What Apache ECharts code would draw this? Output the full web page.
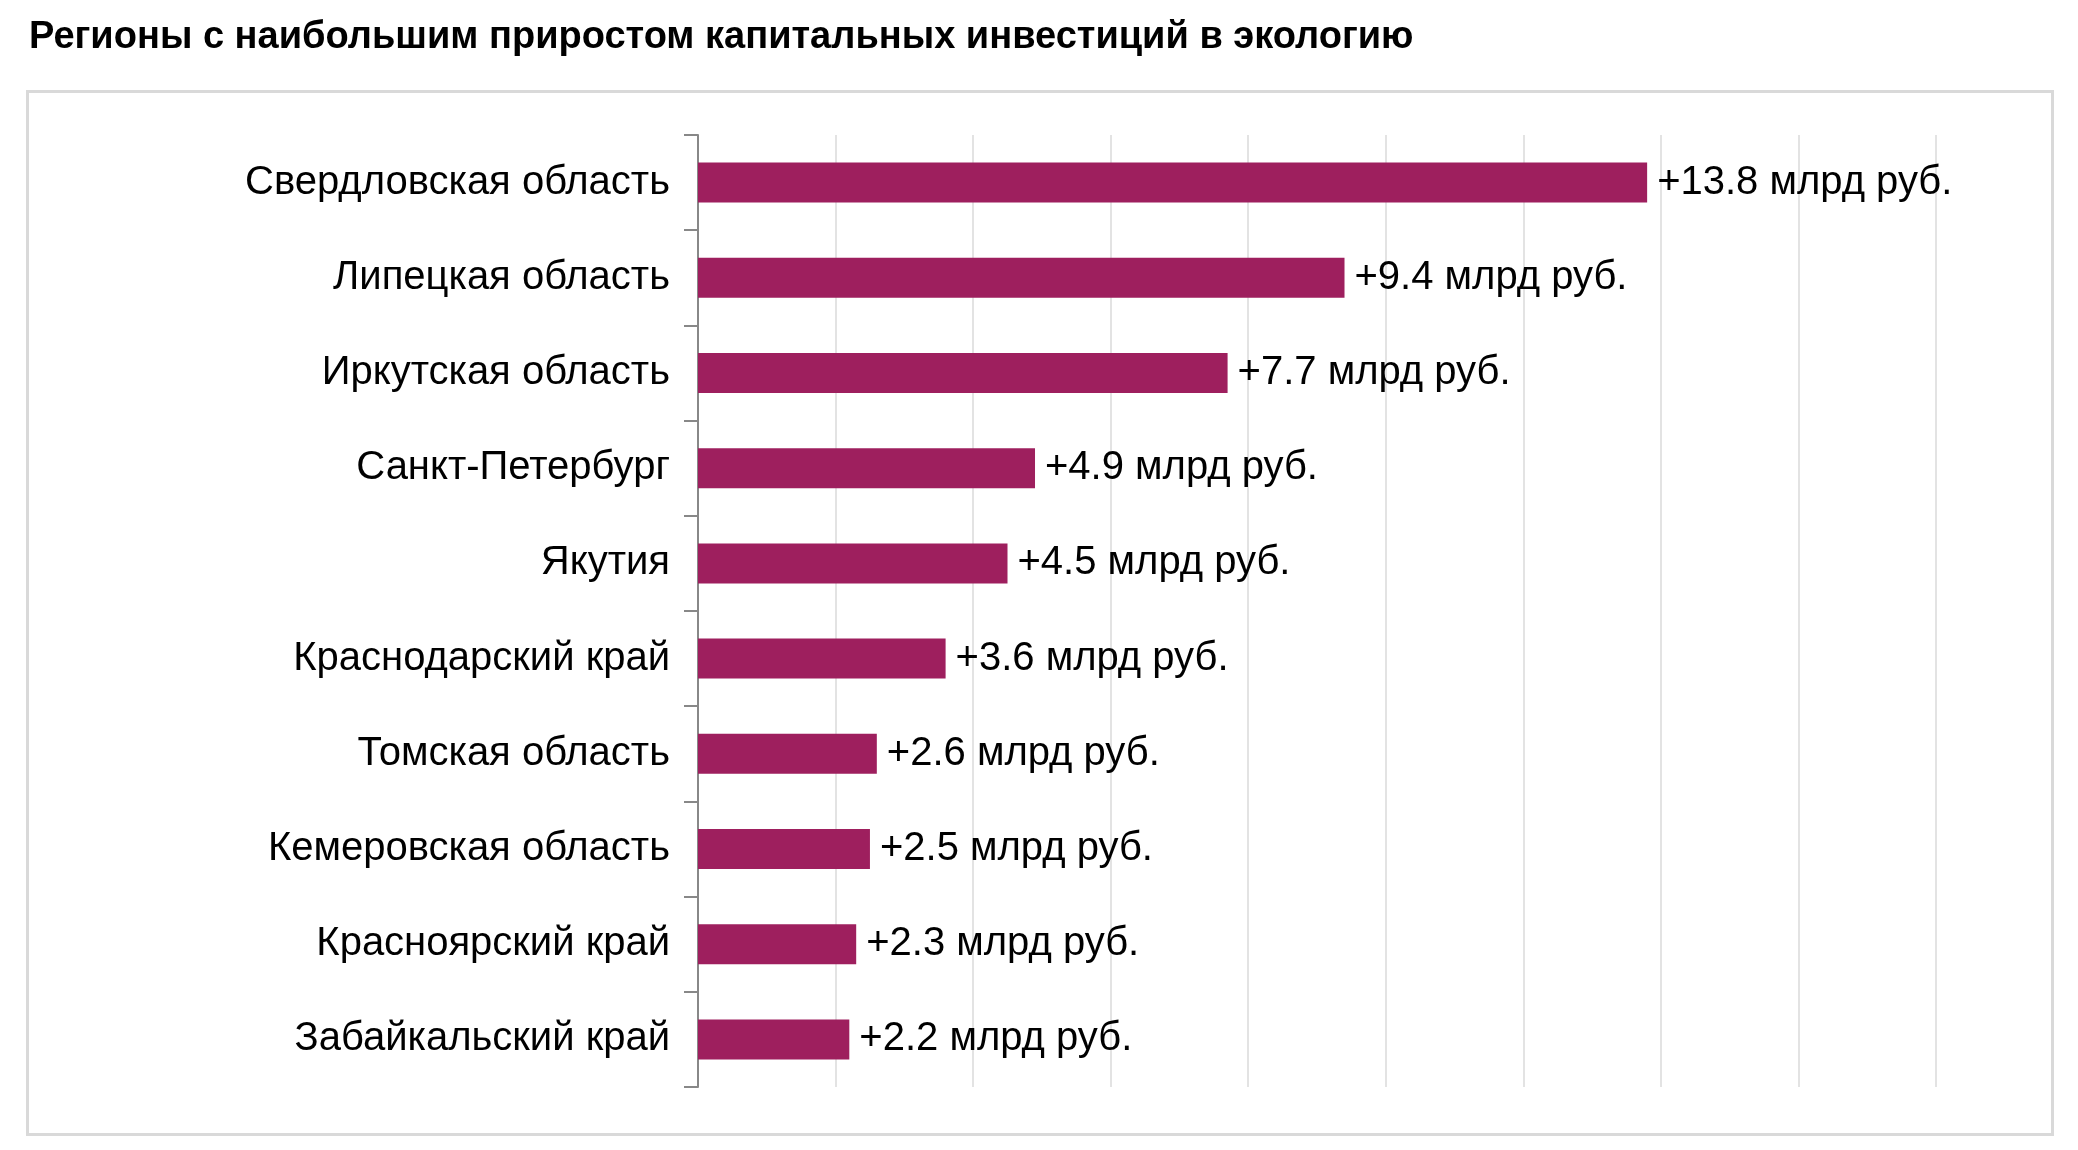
<!DOCTYPE html>
<html>
<head>
<meta charset="UTF-8">
<script src="https://cdn.jsdelivr.net/npm/echarts@6/dist/echarts.min.js"></script>
</head>
<body style="margin:0">
<div id="c" style="width:2078px;height:1150px"></div>
<script>
var regions = ['Свердловская область', 'Липецкая область', 'Иркутская область', 'Санкт-Петербург', 'Якутия',
  'Краснодарский край', 'Томская область', 'Кемеровская область', 'Красноярский край', 'Забайкальский край'];
var values = [13.8, 9.4, 7.7, 4.9, 4.5, 3.6, 2.6, 2.5, 2.3, 2.2];

var chart = echarts.init(document.getElementById('c'));
chart.setOption({
  textStyle: { fontFamily: 'Liberation Sans' },
  title: {
    text: 'Регионы с наибольшим приростом капитальных инвестиций в экологию',
    left: 24, top: 14,
    textStyle: { fontSize: 38, fontWeight: 'bold', color: '#000', fontFamily: 'Liberation Sans' }
  },
  graphic: [{
    type: 'rect', left: 26, top: 90, z: -1,
    shape: { width: 2025, height: 1043 },
    style: { fill: '#fff', stroke: '#d9d9d9', lineWidth: 3 }
  }],
  grid: { left: 698, right: 142, top: 135, bottom: 63 },
  xAxis: {
    type: 'value', min: 0, max: 18, interval: 2,
    axisLabel: { show: false }, axisLine: { show: false }, axisTick: { show: false },
    splitLine: { lineStyle: { color: '#e3e3e3', width: 2 } }
  },
  yAxis: {
    type: 'category', inverse: true, data: regions,
    axisLine: { lineStyle: { color: '#888', width: 2 } },
    axisTick: { show: true, length: 14, lineStyle: { color: '#888', width: 2 } },
    axisLabel: { fontSize: 40, color: '#000', margin: 28 }
  },
  series: [{
    type: 'bar', data: values, barWidth: 40,
    itemStyle: { color: '#9e1f5e' },
    label: {
      show: true, position: 'right', distance: 10, fontSize: 40, color: '#000',
      formatter: function (p) { return '+' + p.value.toFixed(1) + ' млрд руб.'; }
    }
  }]
});
</script>
</body>
</html>
